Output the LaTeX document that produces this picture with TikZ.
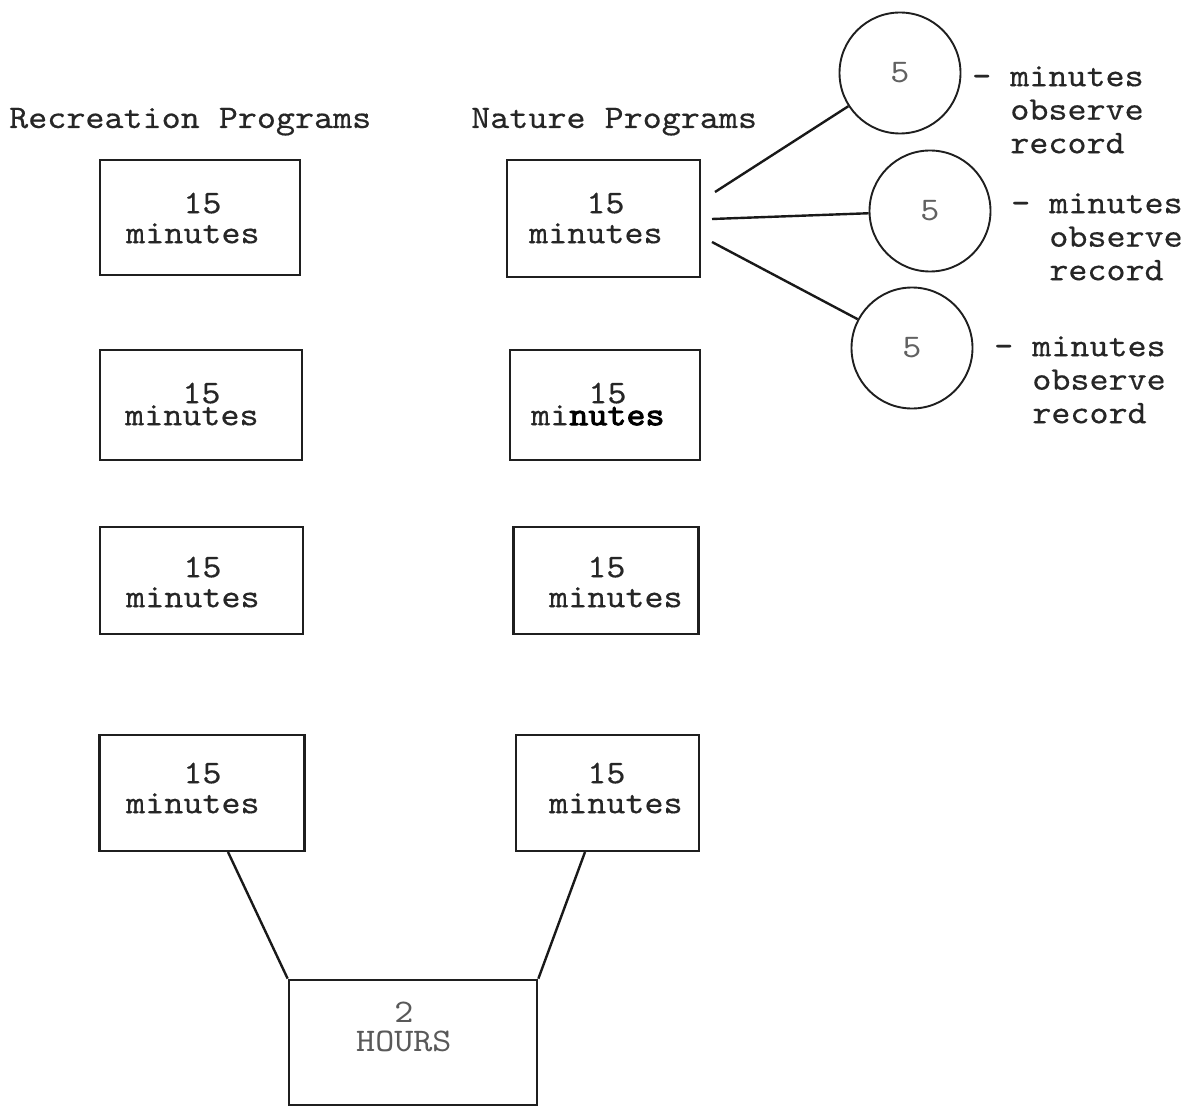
\documentclass[tikz,border=0pt]{standalone}
\usepackage{fontspec}
\newfontfamily\tw{lmmono10-regular}[Extension=.otf,FakeStretch=1.1,FakeBold=0.4]
\newfontfamily\twl{lmmono10-regular}[Extension=.otf,FakeStretch=1.1]
\newfontfamily\twb{lmmono10-regular}[Extension=.otf,FakeStretch=1.1,FakeBold=2.6]
\newcommand\fl{\rule{0pt}{24pt}}
\begin{document}
\begin{tikzpicture}[x=1pt,y=-1pt,
  tbox/.style={draw=black!88,line width=2.7pt,rectangle,inner sep=0pt},
  ring/.style={draw=black!88,line width=1.9pt,circle,inner sep=0pt,minimum size=121pt,text=black!62,font=\twl\fontsize{33}{33.5}\selectfont},
  tw/.style={inner sep=0pt,anchor=north west,align=left,text=black!85,font=\tw\fontsize{33}{30}\selectfont},
  lbl/.style={tw,font=\tw\fontsize{33}{33.5}\selectfont},
  head/.style={inner sep=0pt,anchor=base west,text=black!85,font=\tw\fontsize{33}{33.5}\selectfont},
  link/.style={draw=black!90,line width=2.4pt}
]
\useasboundingbox (0,0) rectangle (1183,1107);

% headers
\node[head] (hrec) at (9,128) {Recreation Programs};
\node[head] (hnat) at (471,128) {Nature Programs};

% left column boxes
\node[tbox,minimum width=200pt,minimum height=115pt] (lb1) at (200,217.5) {};
\node[tbox,minimum width=202pt,minimum height=110pt] (lb2) at (201,405) {};
\node[tbox,minimum width=203pt,minimum height=107pt] (lb3) at (201.5,580.5) {};
\node[tbox,minimum width=205pt,minimum height=116pt] (lb4) at (202,793) {};

\node[tw] (lt1) at (126,189) {\fl\hphantom{000}15\\minutes};
\node[tw] (lt2) at (125,379) {\fl\hphantom{000}15\\[-8pt]minutes};
\node[tw] (lt3) at (126,553) {\fl\hphantom{000}15\\minutes};
\node[tw] (lt4) at (126,759) {\fl\hphantom{000}15\\minutes};

% right column boxes
\node[tbox,minimum width=193pt,minimum height=117pt] (rb1) at (603.5,218.5) {};
\node[tbox,minimum width=190pt,minimum height=110pt] (rb2) at (605,405) {};
\node[tbox,minimum width=185pt,minimum height=107pt] (rb3) at (606,580.5) {};
\node[tbox,minimum width=183pt,minimum height=116pt] (rb4) at (607.5,793) {};

\node[tw] (rt1) at (529,189) {\fl\hphantom{000}15\\minutes};
\node[tw] (rt2) at (531,379) {\fl\hphantom{000}15\\[-8pt]mi{\twb\color{black} nutes}};
\node[tw] (rt3) at (549,553) {\fl\hphantom{00}15\\minutes};
\node[tw] (rt4) at (549,759) {\fl\hphantom{00}15\\minutes};

% total box
\node[tbox,minimum width=248pt,minimum height=125pt] (hours) at (413,1042.5) {};
\node[tw,text=black!65,font=\twl\fontsize{33}{29.5}\selectfont] (ht) at (356,998) {\fl\hphantom{00}2\\HOURS};

% circles
\node[ring] (ci1) at (900,73) {5};
\node[ring] (ci2) at (930,211) {5};
\node[ring] (ci3) at (912,348) {5};

\node[lbl] (la1) at (972,62) {\fl- minutes\\\hphantom{00}observe\\\hphantom{00}record};
\node[lbl] (la2) at (1011,189) {\fl- minutes\\\hphantom{00}observe\\\hphantom{00}record};
\node[lbl] (la3) at (994,332) {\fl- minutes\\\hphantom{00}observe\\\hphantom{00}record};

% connectors
\coordinate (s1) at (715,192);
\coordinate (s2) at (712,219);
\coordinate (s3) at (712,242);
\coordinate (s4) at (228,852);
\coordinate (s5) at (585,852);
\draw[link] (s1) -- (ci1);
\draw[link] (s2) -- (ci2);
\draw[link] (s3) -- (ci3);
\draw[link] (s4) -- (hours.north west);
\draw[link] (s5) -- (hours.north east);
\end{tikzpicture}
\end{document}
